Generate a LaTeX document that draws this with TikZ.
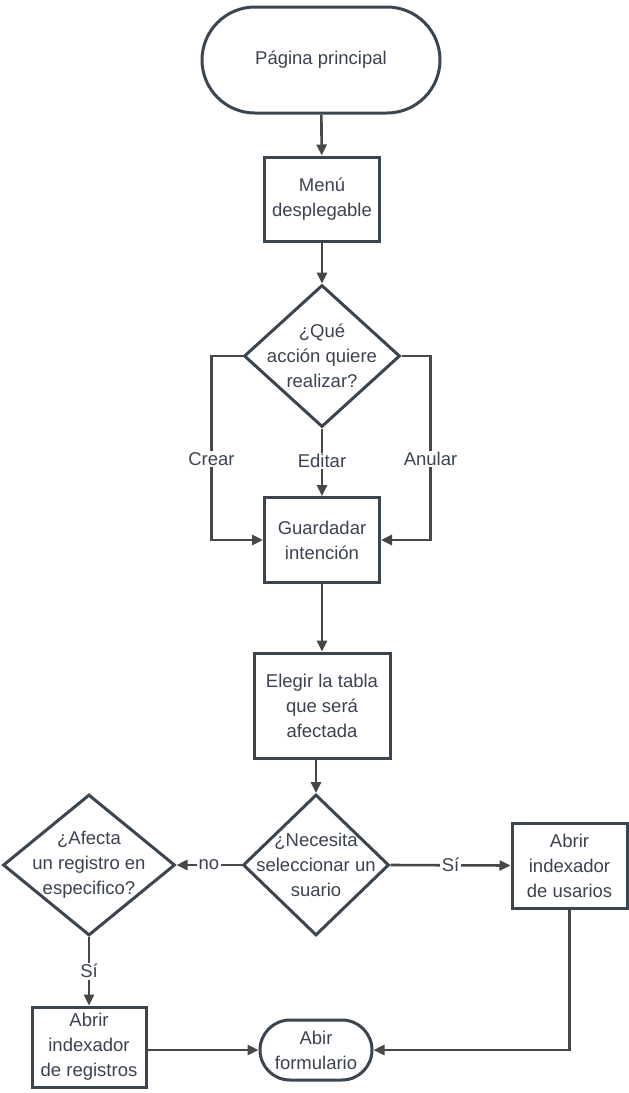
\documentclass[tikz,border=0pt]{standalone}
\usepackage{fontspec}
\setmainfont{Liberation Sans}
\usepackage{xcolor}
\usepackage{tikz}
\usetikzlibrary{arrows.meta,shapes.geometric,calc}
\definecolor{edge}{HTML}{3B4550}
\definecolor{wire}{HTML}{474747}
\definecolor{txt}{HTML}{3B4350}
\tikzset{
  boxfont/.style={font=\fontsize{18.5}{25}\selectfont, text=txt, align=center},
  proc/.style={rectangle, draw=edge, fill=white, line width=3pt, inner sep=2pt, boxfont},
  term/.style={rectangle, draw=edge, fill=white, line width=3pt, inner sep=2pt, boxfont},
  decision/.style={diamond, draw=edge, fill=white, line width=3pt, inner sep=0pt, aspect=1},
  arr/.style={draw=wire, line width=2.6pt, -{Triangle[length=11pt,width=10pt]}},
  lbl/.style={fill=white, inner sep=1.5pt, boxfont},
}
\begin{document}
\begin{tikzpicture}[x=1pt,y=-1pt]
  \useasboundingbox (0,0) rectangle (629,1093);
  % main column
  \node[term, minimum width=238pt, minimum height=106pt, rounded corners=53pt] (inicio) at (321,60) {Página principal};
  \node[proc, minimum width=115pt, minimum height=84pt] (menu) at (322,199) {Menú\\desplegable};
  \node[decision, minimum width=156pt, minimum height=142pt,
        label={[boxfont]center:{¿Qué\\acción quiere\\realizar?}}] (accion) at (322,356) {};
  \node[proc, minimum width=115pt, minimum height=85pt] (guardar) at (322,540) {Guardadar\\intención};
  \node[proc, minimum width=136pt, minimum height=105pt] (elegir) at (322,705.5) {Elegir la tabla\\que será\\afectada};
  % lower row
  \node[decision, minimum width=146pt, minimum height=141pt,
        label={[boxfont]center:{¿Necesita\\seleccionar un\\suario}}] (necesita) at (316,865) {};
  \node[decision, minimum width=172pt, minimum height=141pt,
        label={[boxfont]center:{¿Afecta\\un registro en\\especifico?}}] (afecta) at (89,865) {};
  \node[proc, minimum width=115pt, minimum height=85pt] (usuarios) at (569.5,865.5) {Abrir\\indexador\\de usarios};
  \node[proc, minimum width=114pt, minimum height=80pt] (registros) at (89,1047) {Abrir\\indexador\\de registros};
  \node[term, minimum width=112pt, minimum height=60pt, rounded corners=30pt] (formulario) at (316,1050) {Abir\\formulario};

  \draw[arr] (inicio) -- (menu);
  \draw[arr] (menu) -- (accion);
  \draw[arr] (accion.west) -- ++(-31,0) |- node[lbl,pos=0.28]{Crear} (guardar.west);
  \draw[arr] (accion.south) -- node[lbl,pos=0.48]{Editar} (guardar.north);
  \draw[arr] (accion.east) -- ++(29,0) |- node[lbl,pos=0.28]{Anular} (guardar.east);
  \draw[arr] (guardar) -- (elegir);
  \draw[arr] (elegir.south -| necesita.north) -- (necesita.north);
  \draw[arr] (necesita.west) -- node[lbl]{no} (afecta.east);
  \draw[arr] (necesita.east) -- node[lbl]{Sí} (usuarios.west);
  \draw[arr] (afecta.south) -- node[lbl]{Sí} (registros.north);
  \draw[arr] (registros.east |- formulario.west) -- (formulario.west);
  \draw[arr] (usuarios.south) |- (formulario.east);
\end{tikzpicture}
\end{document}
